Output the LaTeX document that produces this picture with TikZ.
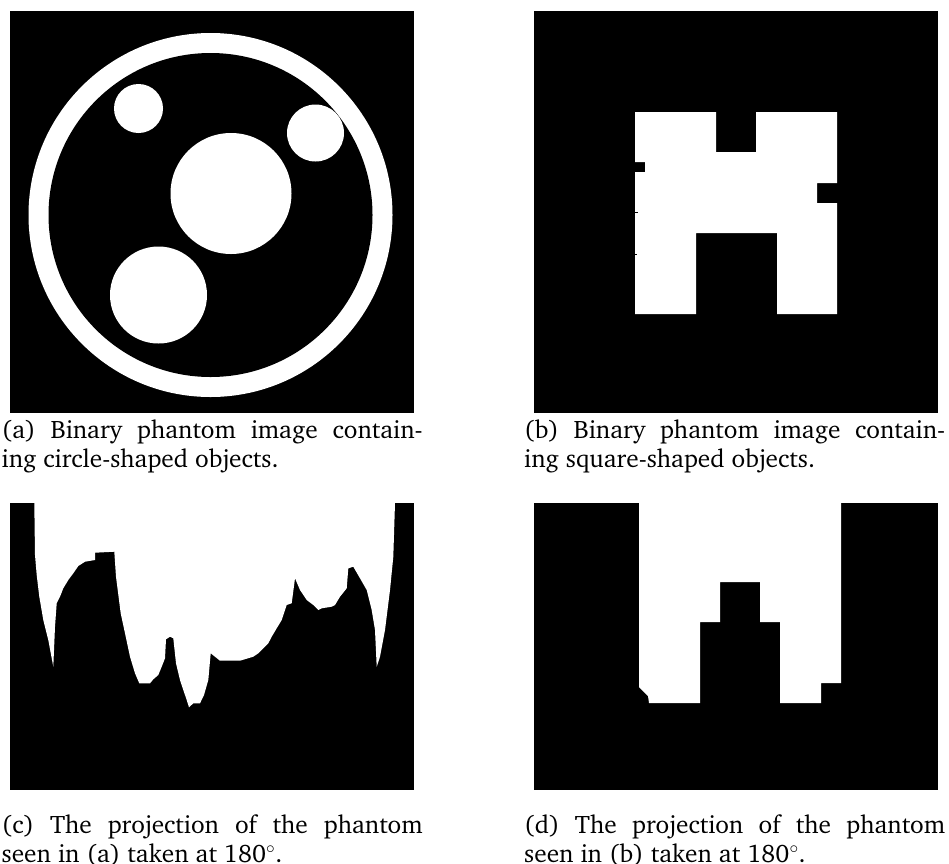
\documentclass[tikz,border=0pt]{standalone}
\usepackage[T1]{fontenc}
\usepackage{charter}
\usepackage{tikz}
\tikzset{
  panel/.style={fill=black},
  object/.style={fill=white},
  subcap/.style={anchor=north west, inner sep=0pt, text width=421pt,
    align=justify, font=\fontsize{25.3}{29.5}\selectfont}
}

\begin{document}
\begin{tikzpicture}[x=1pt, y=-1pt]
  \useasboundingbox (0,0) rectangle (949,863);

  % (a) circles
  \fill[panel] (10,11) rectangle (414,413);
  \fill[object] (210.5,215) circle[radius=182pt];
  \fill[panel] (210.5,215) circle[radius=162pt];
  \fill[object] (138.5,108.5) circle[radius=24.5pt];
  \fill[object] (315.5,133) circle[radius=28.5pt];
  \fill[object] (231,193.5) circle[radius=60.5pt];
  \fill[object] (158.5,295) circle[radius=48.5pt];

  % (b) squares
  \fill[panel] (534,11) rectangle (938,413);
  \fill[object] (635,112) -- (716,112) -- (716,152) -- (756,152) -- (756,112)
    -- (837,112) -- (837,183) -- (817,183) -- (817,203) -- (837,203)
    -- (837,314) -- (777,314) -- (777,233) -- (696,233) -- (696,314)
    -- (635,314) -- (635,172) -- (645,172) -- (645,162) -- (635,162) -- cycle;
  \fill[panel] (635,211.5) rectangle (638,213);
  \fill[panel] (635,253.5) rectangle (637,255);

  % (c) projection of (a)
  \fill[panel] (10,503) rectangle (414,790);
  \fill[object] (34.3,503) -- (35,555) -- (36.7,575) -- (39.3,596.7)
    -- (43.3,620) -- (48.3,640) -- (53.3,666.7) -- (55,626.7) -- (56.7,603.3)
    -- (60,596.7) -- (63.3,588.3) -- (68.3,580) -- (73.3,573.3) -- (78.3,566)
    -- (85,561.7) -- (95,560) -- (95,552.7) -- (114.3,551.7) -- (116,576.7)
    -- (120.7,613.3) -- (125,633.3) -- (130,656.7) -- (135,673.3)
    -- (139.3,683.3) -- (150,683.3) -- (153.3,679.3) -- (158.3,675)
    -- (161.7,666.7) -- (165,658.3) -- (166,639.3) -- (170,636.7)
    -- (173.3,638.3) -- (176,663.3) -- (180,680) -- (183.3,690)
    -- (186.7,700) -- (189,707.3) -- (193.3,703.3) -- (200,703.3)
    -- (204,695) -- (208.3,680) -- (210.7,653.3) -- (215,656.7)
    -- (220,660.7) -- (240,660.7) -- (253.3,656.7) -- (258.3,653.3)
    -- (263.3,648.3) -- (268.3,643.3) -- (271.7,636.7) -- (276.7,628.3)
    -- (281.7,620) -- (286.7,605) -- (291.7,603.3) -- (295,578.3)
    -- (300,590) -- (306.7,600) -- (313.3,605) -- (318.3,610)
    -- (321.7,608.3) -- (331.7,606.7) -- (335,605) -- (340,596.7)
    -- (346.7,588.3) -- (348.3,568.3) -- (353.3,566.7) -- (360,578.3)
    -- (366.7,590) -- (371.7,610) -- (375,630) -- (376.7,666.7)
    -- (380,656.7) -- (385,630) -- (390,590) -- (393.3,556.7)
    -- (395,503) -- cycle;

  % (d) projection of (b)
  \fill[panel] (534,503) rectangle (938,790);
  \fill[object] (639,503) -- (639,687) -- (642,690) -- (645,693) -- (648,696)
    -- (649,703) -- (700,703) -- (700,622) -- (720,622) -- (720,582)
    -- (760,582) -- (760,622) -- (780,622) -- (780,703) -- (821,703)
    -- (821,683) -- (841,683) -- (841,503) -- cycle;

  % captions
  \node[subcap] (capA) at (1.5,419.5)
    {(a) Binary phantom image contain-\linebreak ing circle-shaped objects.};
  \node[subcap] (capB) at (524,419.5)
    {(b) Binary phantom image contain-\linebreak ing square-shaped objects.};
  \node[subcap] (capC) at (1.5,814.5)
    {(c) The projection of the phantom\linebreak seen in (a) taken at 180$^\circ$.};
  \node[subcap] (capD) at (524,814.5)
    {(d) The projection of the phantom\linebreak seen in (b) taken at 180$^\circ$.};
\end{tikzpicture}
\end{document}
